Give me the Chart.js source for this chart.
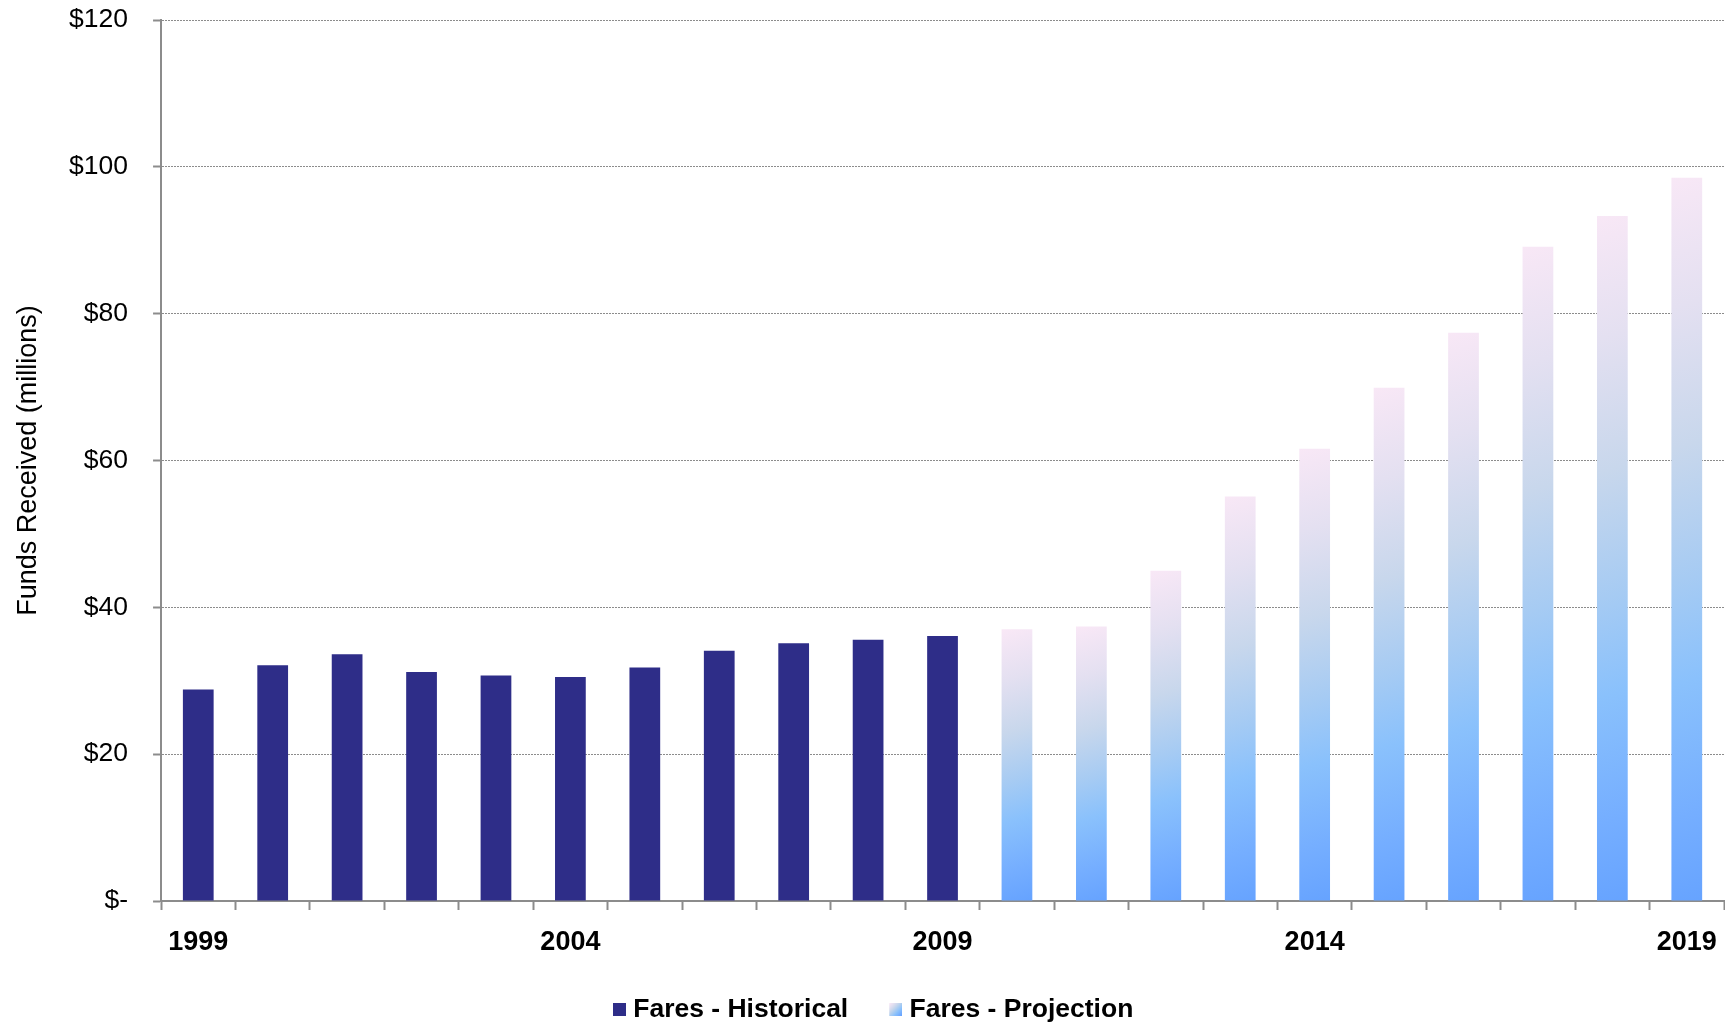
<!DOCTYPE html>
<html>
<head>
<meta charset="utf-8">
<script src="https://cdn.jsdelivr.net/npm/chart.js@4.4.0/dist/chart.umd.min.js"></script>
<style>
html,body{margin:0;padding:0;background:#ffffff;}
#wrap{width:1725px;height:1026px;position:relative;}
</style>
</head>
<body>
<div id="wrap"><canvas id="c"></canvas></div>
<script>
// ---- data ----
const years = ['1999','2000','2001','2002','2003','2004','2005','2006','2007','2008','2009',
               '2010','2011','2012','2013','2014','2015','2016','2017','2018','2019'];
const historical = [28.8, 32.1, 33.6, 31.2, 30.7, 30.5, 31.8, 34.1, 35.1, 35.6, 36.1,
                    null, null, null, null, null, null, null, null, null, null];
const projection = [null, null, null, null, null, null, null, null, null, null, null,
                    37.0, 37.4, 45.0, 55.1, 61.6, 69.9, 77.4, 89.1, 93.3, 98.5];
const shownYearLabels = ['1999','2004','2009','2014','2019'];
const seriesNames = ['Fares - Historical', 'Fares - Projection'];

// ---- styles ----
const NAVY = '#2E2D88';
const gradStops = [
  [0.00, '#FCE9F7'],
  [0.20, '#E4E0F1'],
  [0.38, '#C8D7EC'],
  [0.55, '#A6CBF3'],
  [0.68, '#8AC1FC'],
  [0.85, '#75AEFF'],
  [1.00, '#62A0FF']
];

function addStops(g){ gradStops.forEach(s => g.addColorStop(s[0], s[1])); return g; }

function projGradient(ctx){
  const chart = ctx.chart;
  if (ctx.type !== 'data' || !chart.chartArea || ctx.raw == null) return '#8AC1FC';
  const ys = chart.scales.y, xs = chart.scales.x;
  const top = ys.getPixelForValue(ctx.raw);
  const bot = ys.getPixelForValue(0);
  const cx = xs.getPixelForValue(ctx.dataIndex);
  const a = 0.15 * (bot - top);
  return addStops(chart.ctx.createLinearGradient(cx - a, top, cx + a, bot));
}

// legend swatches: 13px square at the right end of a 56px wide transparent canvas
function legendImg(kind){
  const c = document.createElement('canvas');
  c.width = 56; c.height = 13;
  const g = c.getContext('2d');
  if (kind === 0) {
    g.fillStyle = NAVY;
  } else {
    g.fillStyle = addStops(g.createLinearGradient(43, 0, 56, 13));
  }
  g.fillRect(43, 0, 13, 13);
  return c;
}
const legendImgs = [legendImg(0), legendImg(1)];

Chart.defaults.font.family = '"Liberation Sans", Arial, Helvetica, sans-serif';
Chart.defaults.color = '#000000';

new Chart(document.getElementById('c'), {
  type: 'bar',
  data: {
    labels: years,
    datasets: [
      { label: seriesNames[0], data: historical, backgroundColor: NAVY, grouped: false,
        barPercentage: 0.413, categoryPercentage: 1.0 },
      { label: seriesNames[1], data: projection, backgroundColor: projGradient, grouped: false,
        barPercentage: 0.413, categoryPercentage: 1.0 }
    ]
  },
  options: {
    responsive: true,
    maintainAspectRatio: false,
    animation: false,
    devicePixelRatio: 1,
    layout: { padding: { left: 0, right: 1, top: 20, bottom: -6.5 } },
    plugins: {
      tooltip: { enabled: false },
      legend: {
        position: 'bottom',
        title: { display: true, text: '', font: { size: 10 }, padding: { top: 0, bottom: 4 } },
        labels: {
          usePointStyle: true,
          pointStyleWidth: 44,
          boxWidth: 44,
          boxHeight: 13,
          padding: 4,
          color: '#000',
          font: { size: 26.5, weight: 'bold' },
          generateLabels: (chart) => chart.data.datasets.map((ds, i) => ({
            text: i === 1 ? ds.label + '  ' : ds.label,
            pointStyle: legendImgs[i],
            fillStyle: 'rgba(0,0,0,0)',
            strokeStyle: 'rgba(0,0,0,0)',
            lineWidth: 0,
            hidden: false,
            datasetIndex: i,
            fontColor: '#000'
          }))
        }
      }
    },
    scales: {
      x: {
        grid: {
          display: true,
          drawOnChartArea: false,
          drawTicks: true,
          tickLength: 9,
          tickColor: '#8c8c8c',
          tickWidth: 2,
          offset: true
        },
        border: { display: true, color: '#8c8c8c', width: 2 },
        ticks: {
          autoSkip: false,
          maxRotation: 0,
          minRotation: 0,
          padding: 0,
          color: '#000',
          font: { size: 27, weight: 'bold', lineHeight: '66px' },
          callback: function(val, idx){
            const lab = years[idx];
            return shownYearLabels.includes(lab) ? lab : '';
          }
        }
      },
      y: {
        min: 0,
        max: 120,
        grid: {
          display: true,
          drawOnChartArea: true,
          drawTicks: true,
          tickLength: 33,
          color: '#8c8c8c',
          lineWidth: 1,
          tickColor: '#8c8c8c',
          tickWidth: 2,
          tickBorderDash: [8, 25],
          tickBorderDashOffset: 8
        },
        border: { display: true, color: '#8c8c8c', width: 2, dash: [2, 1] },
        ticks: {
          stepSize: 20,
          padding: 0,
          color: '#000',
          font: { size: 26.5 },
          callback: (v) => v === 0 ? '$-' : '$' + v
        },
        title: {
          display: true,
          text: 'Funds Received (millions)',
          color: '#000',
          font: { size: 27 },
          padding: { top: 12.4, bottom: 24.3 }
        }
      }
    }
  }
});
</script>
</body>
</html>
